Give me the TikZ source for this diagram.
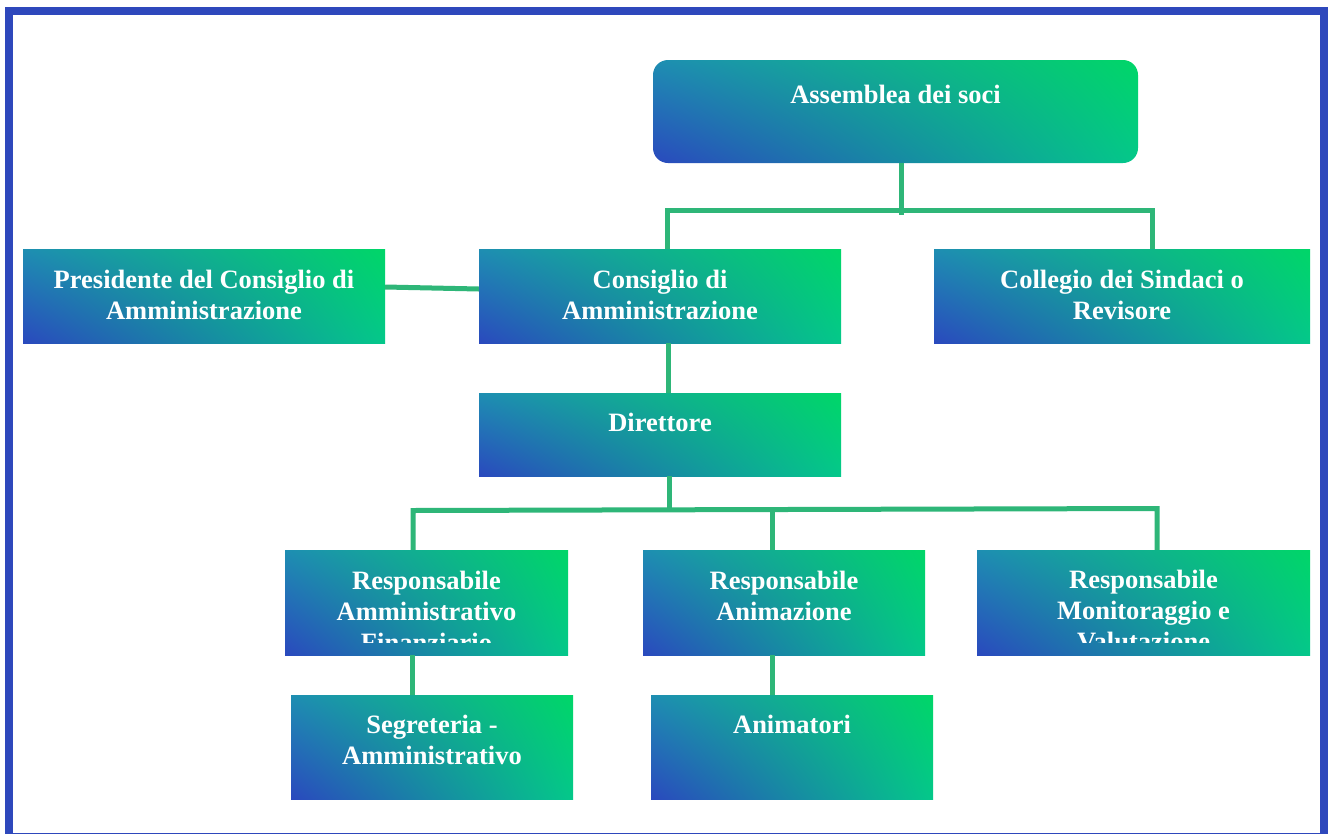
\documentclass[tikz,border=0pt]{standalone}
\usepackage{fontspec}
\usetikzlibrary{shadings}
\setmainfont{Liberation Serif}
\definecolor{gblue}{RGB}{42,73,190}
\definecolor{ggreen}{RGB}{0,214,104}
\definecolor{gul}{RGB}{30,142,178}
\definecolor{glr}{RGB}{4,200,138}
\definecolor{linkc}{RGB}{46,182,120}
\definecolor{framec}{RGB}{46,72,188}
\tikzset{
  orgbox/.style={rectangle, inner sep=0pt, draw=none, shade,
    lower left=gblue, upper right=ggreen, upper left=gul, lower right=glr},
  orgtext/.style={anchor=north, inner sep=0pt, align=center, text=white,
    font=\fontsize{26.5}{31}\selectfont\bfseries},
  link/.style={draw=linkc, line width=5pt},
  frameline/.style={draw=framec, line width=8pt}
}
\newcommand{\orgnode}[8]{%
  % #1 name, #2 x1, #3 y1, #4 x2, #5 y2, #6 baseline y, #7 text, #8 extra style
  \node[orgbox, #8, minimum width={#4-#2}, minimum height={#5-#3}] (#1) at ({(#2+#4)/2},{(#3+#5)/2}) {};
  \begin{scope}
    \clip (#2,#3) rectangle (#4,{#5-13});
    \node[orgtext] (#1-t) at ({(#2+#4)/2},{#6-21.7}) {\strut #7};
  \end{scope}
}
\begin{document}
\begin{tikzpicture}[x=1pt,y=-1pt]
\useasboundingbox (0,0) rectangle (1328,833);
\fill[white] (0,0) rectangle (1328,833);
\draw[frameline] (9,11) rectangle (1324,837);

\orgnode{A}{653}{60}{1138}{163}{103}{Assemblea dei soci}{rounded corners=15pt}
\orgnode{P}{23}{249}{385}{343}{288}{Presidente del Consiglio di\\Amministrazione}{}
\orgnode{C}{479}{249}{841}{343}{288}{Consiglio di\\Amministrazione}{}
\orgnode{S}{934}{249}{1310}{343}{288}{Collegio dei Sindaci o\\Revisore}{}
\orgnode{D}{479}{393}{841}{476}{431}{Direttore}{}
\orgnode{R1}{285}{550}{568}{655}{589}{Responsabile\\Amministrativo\\Finanziario}{}
\orgnode{R2}{643}{550}{925}{655}{589}{Responsabile\\Animazione}{}
\orgnode{R3}{977}{550}{1310}{655}{588}{Responsabile\\Monitoraggio e\\Valutazione}{}
\orgnode{G}{291}{695}{573}{799}{733}{Segreteria -\\Amministrativo}{}
\orgnode{N}{651}{695}{933}{799}{733}{Animatori}{}

% top tree
\coordinate (ja) at (901,210);
\coordinate (tl) at (667,210);
\coordinate (tr) at (1152,210);
\draw[link] (A.south -| ja) -- ([yshift=-5pt]ja);
\draw[link] (C.north -| tl) -- (tl) -- (tr) -- (S.north -| tr);
\draw[link] ([yshift=9pt]P.east) -- ([yshift=7pt]C.west);
\coordinate (cd) at (668,0);
\draw[link] (C.south -| cd) -- (D.north -| cd);

% lower tree
\coordinate (bl) at (413,510.5);
\coordinate (bm) at (772,509.5);
\coordinate (bd) at (669,509.5);
\coordinate (br) at (1157,508.5);
\draw[link] (D.south -| bd) -- (bd);
\draw[link] (R1.north -| bl) -- (bl) -- (br) -- (R3.north -| br);
\draw[link] (R2.north -| bm) -- (bm);
\coordinate (gx) at (412,0);
\coordinate (nx) at (772,0);
\draw[link] (R1.south -| gx) -- (G.north -| gx);
\draw[link] (R2.south -| nx) -- (N.north -| nx);
\end{tikzpicture}
\end{document}
